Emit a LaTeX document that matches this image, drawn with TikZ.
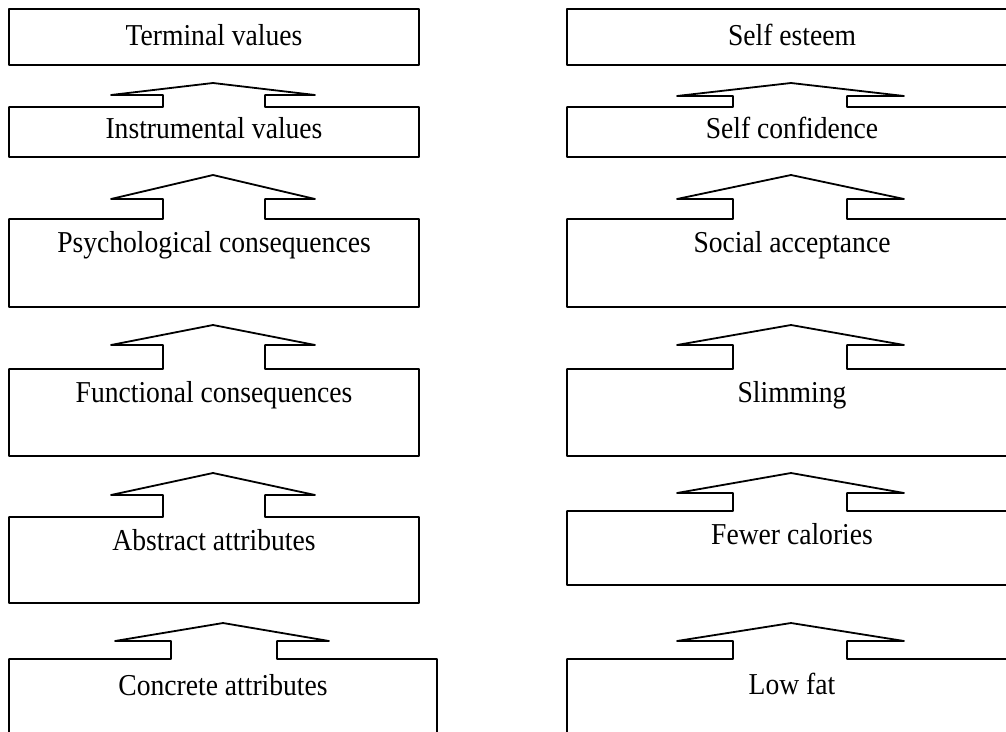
\documentclass[tikz,border=0pt]{standalone}
\usepackage{graphicx}
\usepackage{fontspec}
\setmainfont{Liberation Serif}
\newcommand{\tallstr}[1]{\scalebox{1}[1.1]{#1}}
\begin{document}
\begin{tikzpicture}[x=1pt,y=-1pt,
  outline/.style={draw=black,line width=1.8pt,line join=round},
  lbl/.style={inner sep=0pt,anchor=base,font=\fontsize{27.6}{30}\selectfont}]
\useasboundingbox (0,0) rectangle (1006,731);
\clip (0,0) rectangle (1006,731);
% ---------- left column ----------
\draw[outline] (9,9) rectangle (419,65);
\draw[outline] (9,157) -- (9,107) -- (163,107) -- (163,95) -- (111,95) -- (213,83) -- (315,95) -- (265,95) -- (265,107) -- (419,107) -- (419,157) -- cycle;
\draw[outline] (9,307) -- (9,219) -- (163,219) -- (163,199) -- (111,199) -- (213,175) -- (315,199) -- (265,199) -- (265,219) -- (419,219) -- (419,307) -- cycle;
\draw[outline] (9,456) -- (9,369) -- (163,369) -- (163,345) -- (111,345) -- (213,325) -- (315,345) -- (265,345) -- (265,369) -- (419,369) -- (419,456) -- cycle;
\draw[outline] (9,603) -- (9,517) -- (163,517) -- (163,495) -- (111,495) -- (213,473) -- (315,495) -- (265,495) -- (265,517) -- (419,517) -- (419,603) -- cycle;
\draw[outline] (9,770) -- (9,659) -- (171,659) -- (171,641) -- (115,641) -- (223,623) -- (329,641) -- (277,641) -- (277,659) -- (437,659) -- (437,770);
\node[lbl] (terminal) at (214,45) {\tallstr{Terminal values}};
\node[lbl] (instrumental) at (214,138) {\tallstr{Instrumental values}};
\node[lbl] (psych) at (214,252.5) {\tallstr{Psychological consequences}};
\node[lbl] (functional) at (214,402) {\tallstr{Functional consequences}};
\node[lbl] (abstract) at (214,550) {\tallstr{Abstract attributes}};
\node[lbl] (concrete) at (223,695) {\tallstr{Concrete attributes}};
% ---------- right column ----------
\draw[outline] (1040,9) -- (567,9) -- (567,65) -- (1040,65);
\draw[outline] (1040,107) -- (847,107) -- (847,96) -- (904,96) -- (791,83) -- (677,96) -- (733,96) -- (733,107) -- (567,107) -- (567,157) -- (1040,157);
\draw[outline] (1040,219) -- (847,219) -- (847,199) -- (904,199) -- (791,175) -- (677,199) -- (733,199) -- (733,219) -- (567,219) -- (567,307) -- (1040,307);
\draw[outline] (1040,369) -- (847,369) -- (847,345) -- (904,345) -- (791,325) -- (677,345) -- (733,345) -- (733,369) -- (567,369) -- (567,456) -- (1040,456);
\draw[outline] (1040,511) -- (847,511) -- (847,493) -- (904,493) -- (791,473) -- (677,493) -- (733,493) -- (733,511) -- (567,511) -- (567,585) -- (1040,585);
\draw[outline] (1040,659) -- (847,659) -- (847,641) -- (904,641) -- (791,623) -- (677,641) -- (733,641) -- (733,659) -- (567,659) -- (567,770);
\node[lbl] (selfesteem) at (792,45) {\tallstr{Self esteem}};
\node[lbl] (selfconf) at (792,138) {\tallstr{Self confidence}};
\node[lbl] (social) at (792,252.5) {\tallstr{Social acceptance}};
\node[lbl] (slimming) at (792,402) {\tallstr{Slimming}};
\node[lbl] (fewer) at (792,544) {\tallstr{Fewer calories}};
\node[lbl] (lowfat) at (792,694) {\tallstr{Low fat}};
\end{tikzpicture}
\end{document}
